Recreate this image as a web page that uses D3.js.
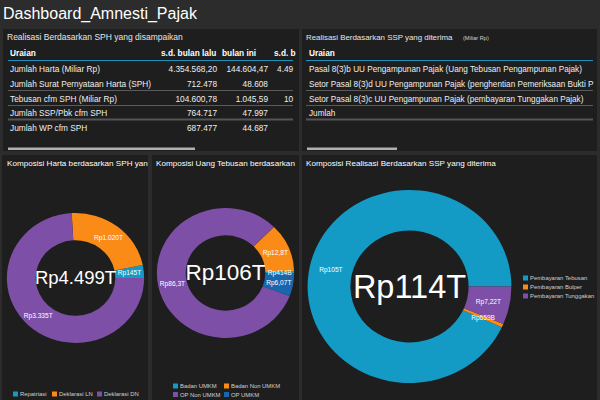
<!DOCTYPE html>
<html><head><meta charset="utf-8">
<script src="https://cdn.jsdelivr.net/npm/d3@7"></script>
<style>
html,body{margin:0;padding:0;background:#2c2c2c;overflow:hidden;}
svg{display:block;font-family:"Liberation Sans",Arial,sans-serif;}
</style></head><body>
<svg id="c" width="600" height="400"></svg>
<script>
// ---------- data ----------
const pageTitle = "Dashboard_Amnesti_Pajak";

const sphTitle = "Realisasi Berdasarkan SPH yang disampaikan";
const sphHeaders = ["Uraian", "s.d. bulan lalu", "bulan ini", "s.d. bulan ini"];
const sphItems = ["Jumlah Harta (Miliar Rp)", "Jumlah Surat Pernyataan Harta (SPH)", "Tebusan cfm SPH (Miliar Rp)", "Jumlah SSP/Pbk cfm SPH", "Jumlah WP cfm SPH"];
const sphLalu = ["4.354.568,20", "712.478", "104.600,78", "764.717", "687.477"];
const sphIni = ["144.604,47", "48.608", "1.045,59", "47.997", "44.687"];
const sphSd = ["4.499.172,67", "761.086", "105.646,37", "812.714", "732.164"];

const sspTitle = "Realisasi Berdasarkan SSP yang diterima";
const sspUnit = "(Miliar Rp)";
const sspHeaders = ["Uraian"];
const sspItems = ["Pasal 8(3)b UU Pengampunan Pajak (Uang Tebusan Pengampunan Pajak)", "Setor Pasal 8(3)d UU Pengampunan Pajak (penghentian Pemeriksaan Bukti Permulaan)", "Setor Pasal 8(3)c UU Pengampunan Pajak (pembayaran Tunggakan Pajak)", "Jumlah"];

const hartaTitle = "Komposisi Harta berdasarkan SPH yang disampaikan";
const hartaCats = ["Repatriasi", "Deklarasi LN", "Deklarasi DN"];
const hartaVals = [145, 1020, 3335];
const hartaLabels = ["Rp145T", "Rp1.020T", "Rp3.335T"];
const hartaTotal = "Rp4.499T";

const tebusanTitle = "Komposisi Uang Tebusan berdasarkan SPH";
const tebusanCats = ["Badan UMKM", "Badan Non UMKM", "OP Non UMKM", "OP UMKM"];
const tebusanVals = [0.414, 12.8, 86.3, 6.07];
const tebusanLabels = ["Rp414B", "Rp12,8T", "Rp86,3T", "Rp6,07T"];
const tebusanTotal = "Rp106T";

const sspCompTitle = "Komposisi Realisasi Berdasarkan SSP yang diterima";
const sspCats = ["Pembayaran Tebusan", "Pembayaran Bulper", "Pembayaran Tunggakan"];
const sspVals = [105.4, 0.659, 7.22];
const sspLabels = ["Rp105T", "Rp659B", "Rp7,22T"];
const sspTotal = "Rp114T";

// ---------- drawing ----------
const TEAL = "#139bc6", ORANGE = "#fb8b17", PURPLE = "#7e4fa6", BLUE = "#1a66ad";
const PANEL = "#1e1e1e";
const SX = 1.056;
const FS = 8.3;
const svg = d3.select("#c");
const defs = svg.append("defs");

// emulate overflow clipping by trimming characters beyond the panel edge
function fitText(sel, maxX) {
  sel.each(function () {
    const t = d3.select(this);
    let x = +t.attr("x");
    if (t.attr("text-anchor") === "end") {
      x = x - this.getComputedTextLength();
      t.attr("x", x).attr("text-anchor", "start");
    }
    let s = t.text();
    while (s.length > 0 && x + this.getComputedTextLength() > maxX) {
      s = s.slice(0, -1);
      t.text(s);
    }
  });
}

svg.append("text").attr("x", 3).attr("y", 18.5).attr("fill", "#fff")
  .attr("font-size", 16).text(pageTitle);

function panel(id, x, y, w, h) {
  svg.append("rect").attr("x", x).attr("y", y).attr("width", w).attr("height", h).attr("fill", PANEL);
  defs.append("clipPath").attr("id", id).append("rect").attr("x", x).attr("y", y).attr("width", w).attr("height", h);
  return svg.append("g").attr("clip-path", `url(#${id})`);
}

// Panel 1 table
const p1 = panel("c1", 3, 29, 296, 122);
const t1 = p1.append("g");
t1.append("text").attr("x", 7).attr("y", 40).attr("fill", "#e6e6e6").attr("font-size", 8.5).text(sphTitle);
const colHeadX = [10, 161, 222, 274];
const colValX = [217, 268, 325.5];
const rowY = d3.scalePoint().domain(d3.range(5)).range([72, 131]);
t1.append("line").attr("x1", 8).attr("x2", 293).attr("y1", 60.5).attr("y2", 60.5).attr("stroke", "#1e8fbb");
[90.5, 105.5].forEach(y => t1.append("line").attr("x1", 8).attr("x2", 293).attr("y1", y).attr("y2", y).attr("stroke", "#5a5a5a"));
t1.append("line").attr("x1", 8).attr("x2", 293).attr("y1", 119.5).attr("y2", 119.5).attr("stroke", "#555").attr("stroke-width", 2);
t1.selectAll(".h1").data(sphHeaders).join("text").attr("class", "h1").attr("x", (d, i) => colHeadX[i]).attr("y", 56)
  .attr("fill", "#fff").attr("font-size", FS).attr("font-weight", "bold").text(d => d)
  .call(fitText, 296);
t1.selectAll(".r1").data(sphItems).join("text").attr("class", "r1").attr("x", 10).attr("y", (d, i) => rowY(i))
  .attr("fill", "#eee").attr("font-size", FS).text(d => d);
[sphLalu, sphIni, sphSd].forEach((col, c) => {
  t1.selectAll(".v" + c).data(col).join("text").attr("class", "v" + c).attr("x", colValX[c]).attr("y", (d, i) => rowY(i))
    .attr("text-anchor", "end").attr("fill", "#eee").attr("font-size", FS).text(d => d)
    .call(fitText, 294.5);
});
p1.append("rect").attr("x", 8).attr("y", 147.5).attr("width", 187).attr("height", 2.5).attr("fill", "#b0b0b0");

// Panel 2 table
const p2 = panel("c2", 302, 29, 295, 122);
const t2 = p2.append("g");
t2.append("text").attr("x", 306).attr("y", 40).attr("fill", "#e6e6e6").attr("font-size", 7.9).text(sspTitle);
t2.append("text").attr("x", 463).attr("y", 40).attr("fill", "#cfcfcf").attr("font-size", 5.6).text(sspUnit);
t2.selectAll(".h2").data(sspHeaders).join("text").attr("class", "h2").attr("x", 309).attr("y", 56)
  .attr("fill", "#fff").attr("font-size", FS).attr("font-weight", "bold").text(d => d);
t2.append("line").attr("x1", 306).attr("x2", 593).attr("y1", 60.5).attr("y2", 60.5).attr("stroke", "#1e8fbb");
[90.5, 105.5].forEach(y => t2.append("line").attr("x1", 306).attr("x2", 593).attr("y1", y).attr("y2", y).attr("stroke", "#5a5a5a"));
t2.append("line").attr("x1", 306).attr("x2", 593).attr("y1", 119.5).attr("y2", 119.5).attr("stroke", "#555").attr("stroke-width", 2);
t2.selectAll(".r2").data(sspItems).join("text").attr("class", "r2").attr("x", 309).attr("y", (d, i) => rowY(i))
  .attr("fill", "#eee").attr("font-size", 8.2).text(d => d)
  .call(fitText, 594);
p2.append("rect").attr("x", 307).attr("y", 147.5).attr("width", 90).attr("height", 2.5).attr("fill", "#b0b0b0");

// Donut helper
function donut(g, cx, cy, ry, cats, vals, colors, labels, total, totalSize, totalBase) {
  const color = d3.scaleOrdinal().domain(cats).range(colors);
  const pieData = d3.pie().sort(null).value(d => d.v)
    .startAngle(Math.PI / 2).endAngle(Math.PI / 2 - 2 * Math.PI)(
      vals.map((v, i) => ({ v, c: cats[i], l: labels[i] })));
  const arc = d3.arc().innerRadius(ry * 0.58).outerRadius(ry);
  const gg = g.append("g").attr("transform", `translate(${cx},${cy}) scale(${SX},1)`);
  gg.selectAll("path").data(pieData).join("path").attr("d", arc).attr("fill", d => color(d.data.c));
  g.selectAll(".al").data(pieData).join("text").attr("class", "al")
    .attr("x", d => cx + arc.centroid(d)[0] * SX).attr("y", d => cy + arc.centroid(d)[1] + 2.3)
    .attr("text-anchor", "middle").attr("fill", "#fff").attr("font-size", 6.6).text(d => d.data.l);
  g.append("text").attr("x", cx).attr("y", totalBase).attr("text-anchor", "middle")
    .attr("fill", "#fff").attr("font-size", totalSize).text(total);
  return color;
}
function legend(g, cats, color, pos) {
  const lg = g.selectAll(".lg").data(cats).join("g").attr("class", "lg")
    .attr("transform", (d, i) => `translate(${pos(i)[0]},${pos(i)[1]})`);
  lg.append("rect").attr("x", 0).attr("y", -2.5).attr("width", 5).attr("height", 5).attr("fill", d => color(d));
  lg.append("text").attr("x", 7).attr("y", 2.2).attr("fill", "#d0d0d0").attr("font-size", 5.9).text(d => d);
}

// Panel 3
const p3 = panel("c3", 2, 155, 146, 245);
p3.append("text").attr("x", 7).attr("y", 166).attr("fill", "#fff").attr("font-size", 8.1).text(hartaTitle).call(fitText, 149);
const col3 = donut(p3, 75.5, 278, 65, hartaCats, hartaVals, [TEAL, ORANGE, PURPLE], hartaLabels, hartaTotal, 18.5, 283.5);
legend(p3, hartaCats, col3, i => [[13, 394], [52, 394], [97, 394]][i]);

// Panel 4
const p4 = panel("c4", 152, 155, 147, 245);
p4.append("text").attr("x", 156).attr("y", 166).attr("fill", "#fff").attr("font-size", 8.1).text(tebusanTitle).call(fitText, 301);
const col4 = donut(p4, 225.5, 273, 65, tebusanCats, tebusanVals, [TEAL, ORANGE, PURPLE, BLUE], tebusanLabels, tebusanTotal, 22.5, 279.5);
legend(p4, tebusanCats, col4, i => [173 + (i % 2) * 51, 386 + Math.floor(i / 2) * 8.5]);

// Panel 5
const p5 = panel("c5", 302, 155, 295, 245);
p5.append("text").attr("x", 306).attr("y", 166).attr("fill", "#fff").attr("font-size", 8.1).text(sspCompTitle);
const col5 = donut(p5, 409.5, 286.5, 96.5, sspCats, sspVals, [TEAL, ORANGE, PURPLE], sspLabels, sspTotal, 32.5, 297.5);
legend(p5, sspCats, col5, i => [523, 278 + i * 9]);
</script>
</body></html>
